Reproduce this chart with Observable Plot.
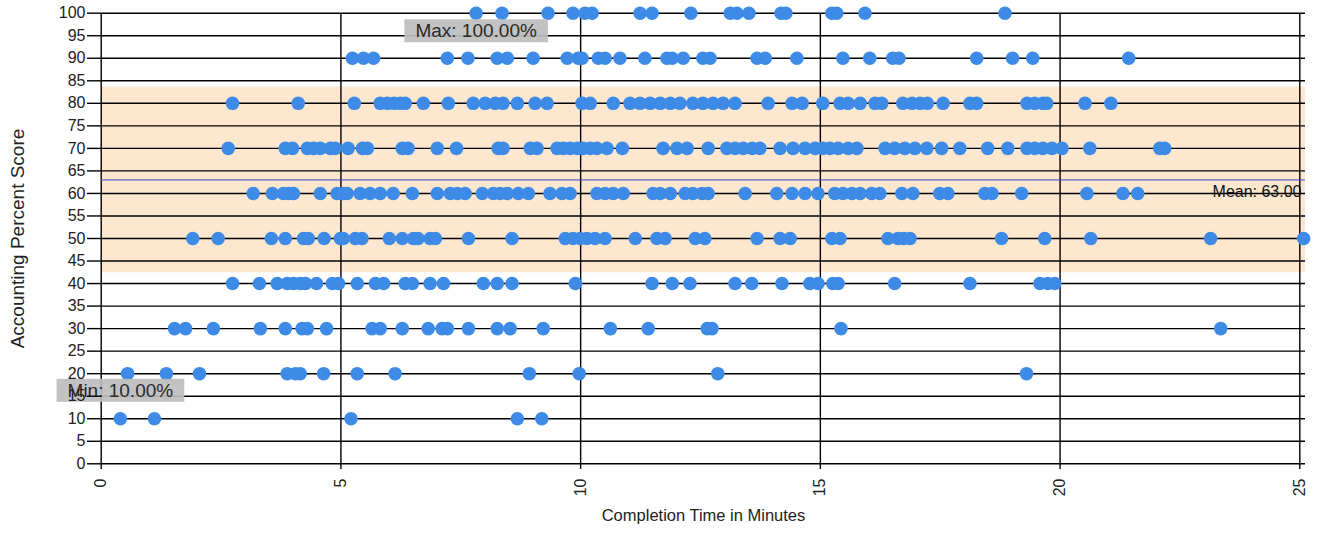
<!DOCTYPE html>
<html>
<head>
<meta charset="utf-8">
<script src="https://cdn.jsdelivr.net/npm/d3@7"></script>
<script src="https://cdn.jsdelivr.net/npm/@observablehq/plot@0.6"></script>
<style>
  html, body { margin: 0; padding: 0; background: #fff; }
  #chart svg { display: block; font-family: "Liberation Sans", Arial, sans-serif; }
</style>
</head>
<body>
<div id="chart"></div>
<script>
// Completion time (minutes) of each student, grouped by accounting score (%)
const times100 = [7.82, 8.36, 9.32, 9.84, 10.09, 10.24, 11.24, 11.49, 12.30, 13.12, 13.26, 13.51, 14.18, 14.28, 15.24, 15.34, 15.93, 18.85];
const times90 = [5.24, 5.47, 5.68, 7.22, 7.65, 8.26, 8.47, 9.01, 9.72, 9.95, 10.03, 10.37, 10.51, 10.82, 11.34, 11.80, 11.91, 12.14, 12.55, 12.70, 13.68, 13.85, 14.51, 15.47, 16.03, 16.51, 16.64, 18.26, 19.01, 19.43, 21.43];
const times80 = [2.74, 4.11, 5.28, 5.82, 5.97, 6.11, 6.24, 6.34, 6.72, 7.24, 7.76, 8.01, 8.22, 8.38, 8.68, 9.05, 9.30, 10.03, 10.20, 10.68, 11.03, 11.24, 11.45, 11.66, 11.87, 12.07, 12.34, 12.55, 12.76, 12.97, 13.22, 13.91, 14.41, 14.62, 15.05, 15.41, 15.58, 15.83, 16.14, 16.28, 16.72, 16.91, 17.08, 17.23, 17.56, 18.12, 18.26, 19.31, 19.47, 19.64, 19.72, 20.52, 21.06];
const times70 = [2.65, 3.84, 3.99, 4.30, 4.43, 4.57, 4.78, 4.88, 5.15, 5.45, 5.55, 6.28, 6.40, 7.01, 7.41, 8.28, 8.38, 8.95, 9.09, 9.51, 9.64, 9.78, 9.93, 10.05, 10.20, 10.34, 10.55, 10.87, 11.72, 12.01, 12.22, 12.66, 13.05, 13.22, 13.39, 13.58, 13.74, 14.16, 14.43, 14.68, 14.89, 15.05, 15.20, 15.37, 15.58, 15.76, 16.35, 16.55, 16.76, 16.97, 17.22, 17.53, 17.91, 18.49, 18.91, 19.31, 19.47, 19.64, 19.83, 20.04, 20.62, 22.08, 22.18];
const times60 = [3.17, 3.57, 3.80, 3.91, 4.01, 4.57, 4.92, 5.05, 5.13, 5.40, 5.61, 5.82, 6.09, 6.49, 7.01, 7.28, 7.43, 7.59, 7.95, 8.18, 8.32, 8.47, 8.70, 8.91, 9.36, 9.61, 9.78, 10.34, 10.51, 10.68, 10.89, 11.51, 11.66, 11.87, 12.18, 12.34, 12.53, 12.66, 13.43, 14.09, 14.41, 14.68, 14.95, 15.30, 15.47, 15.66, 15.83, 16.07, 16.24, 16.70, 16.93, 17.49, 17.66, 18.43, 18.58, 19.20, 20.56, 21.31, 21.62];
const times50 = [1.91, 2.44, 3.55, 3.84, 4.22, 4.32, 4.65, 4.99, 5.05, 5.30, 5.44, 6.01, 6.28, 6.51, 6.61, 6.86, 6.97, 7.66, 8.57, 9.68, 9.84, 9.99, 10.13, 10.30, 10.51, 11.14, 11.59, 11.76, 12.39, 12.59, 13.68, 14.16, 14.37, 15.24, 15.41, 16.41, 16.62, 16.74, 16.87, 18.78, 19.68, 20.64, 23.14, 25.08];
const times40 = [2.74, 3.30, 3.67, 3.88, 4.01, 4.15, 4.26, 4.49, 4.82, 4.95, 5.34, 5.72, 5.89, 6.34, 6.49, 6.86, 7.14, 7.97, 8.26, 8.57, 9.89, 11.49, 11.91, 12.28, 13.22, 13.57, 14.20, 14.78, 14.95, 15.26, 15.37, 16.55, 18.12, 19.58, 19.74, 19.89];
const times30 = [1.53, 1.76, 2.34, 3.32, 3.84, 4.19, 4.30, 4.70, 5.65, 5.82, 6.28, 6.82, 7.11, 7.22, 7.66, 8.26, 8.53, 9.22, 10.62, 11.41, 12.64, 12.74, 15.43, 23.35];
const times20 = [0.55, 1.36, 2.05, 3.88, 4.05, 4.15, 4.64, 5.34, 6.13, 8.93, 9.97, 12.86, 19.30];
const times10 = [0.40, 1.11, 5.21, 8.68, 9.19];

const scoreGroups = [
  [100, times100], [90, times90], [80, times80], [70, times70], [60, times60],
  [50, times50], [40, times40], [30, times30], [20, times20], [10, times10]
];

// Summary statistics shown on the chart
const meanScore = 63.00;
const scoreStdDev = 20.6;

// Axis ticks
const yTicks = d3.range(0, 101, 5);
const xTicks = [0, 5, 10, 15, 20, 25];

// Flatten into one record per student
const students = scoreGroups.flatMap(([score, times]) => times.map(time => ({time, score})));

const maxScore = d3.max(students, d => d.score);
const minScore = d3.min(students, d => d.score);
// the extreme labels sit on the first (fastest) student reaching each extreme
const maxStudent = d3.least(students.filter(d => d.score === maxScore), d => d.time);
const minStudent = d3.least(students.filter(d => d.score === minScore), d => d.time);

const ink = "#000";
const dotColor = "#3d8be6";

const chart = Plot.plot({
  width: 1321,
  height: 535,
  marginLeft: 101,
  marginRight: 16,
  marginTop: 13,
  marginBottom: 72,
  style: {fontFamily: "'Liberation Sans', Arial, sans-serif", fontSize: "16px", color: "#222", background: "#fff", overflow: "visible"},
  x: {domain: [0, 25], range: [100.7, 1299.3]},
  y: {domain: [0, 100], range: [463.3, 12.7]},
  marks: [
    // one-standard-deviation band around the mean
    Plot.rect([{lo: meanScore - scoreStdDev, hi: meanScore + scoreStdDev}], {y1: "lo", y2: "hi", fill: "#fde8cf"}),
    Plot.ruleY(yTicks, {stroke: ink, strokeWidth: 1.4}),
    Plot.ruleX(xTicks, {stroke: ink, strokeWidth: 1.4}),
    Plot.ruleY([meanScore], {stroke: "#3b3bd0", strokeWidth: 1}),
    Plot.text([meanScore], {
      y: d => d, frameAnchor: "right", textAnchor: "end", dx: -4, dy: 12,
      text: d => `Mean: ${d.toFixed(2)}`, fontSize: 16, fill: "#111"
    }),
    Plot.dot(students, {x: "time", y: "score", r: 6.8, fill: dotColor, stroke: "none", clip: false}),
    // extreme-value callouts
    Plot.text([maxStudent], {
      x: "time", y: "score", dy: 18, text: d => `Max: ${d.score.toFixed(2)}%`,
      fontSize: 19, fill: "#2a2a2a", className: "callout"
    }),
    Plot.text([minStudent], {
      x: "time", y: "score", dy: -28, text: d => `Min: ${d.score.toFixed(2)}%`,
      fontSize: 19, fill: "#2a2a2a", className: "callout"
    }),
    Plot.axisY(yTicks, {tickSize: 14, tickPadding: 2, stroke: ink, strokeWidth: 1.4, fontSize: 16, fill: "#222", label: null}),
    Plot.axisX(xTicks, {tickSize: 6, tickPadding: 9, tickRotate: -90, stroke: ink, strokeWidth: 1.4, fontSize: 16, fill: "#222", label: null}),
    // axis titles
    Plot.text(["Completion Time in Minutes"], {frameAnchor: "bottom", dy: 57, text: d => d, fontSize: 16.5, fill: "#222"}),
    Plot.text(["Accounting Percent Score"], {frameAnchor: "left", textAnchor: "middle", dx: -84, rotate: -90, text: d => d, fontSize: 19, fill: "#222"})
  ]
});

document.getElementById("chart").appendChild(chart);

// grey boxes behind the extreme-value callouts
d3.select(chart).selectAll("g.callout text").each(function () {
  const b = this.getBBox();
  d3.select(this.parentNode).insert("rect", () => this)
    .attr("transform", this.getAttribute("transform"))
    .attr("x", b.x - 11).attr("y", b.y - 1)
    .attr("width", b.width + 22).attr("height", b.height + 2)
    .attr("fill", "#bdbdbd").attr("fill-opacity", 0.92);
});
</script>
</body>
</html>
